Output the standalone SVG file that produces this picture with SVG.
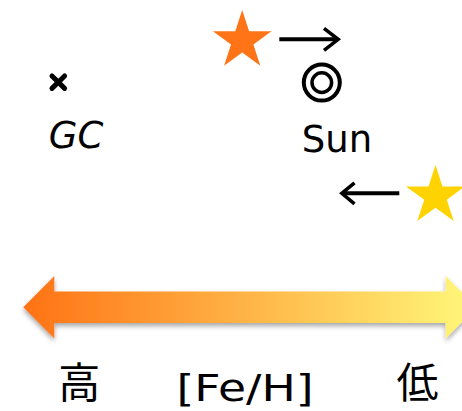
<svg xmlns="http://www.w3.org/2000/svg" width="462" height="411" viewBox="0 0 462 411">
  <style>
    .lbl { font-family: "DejaVu Sans", "Liberation Sans", sans-serif; fill: #000; }
    .cjk { font-family: "Noto Sans CJK JP", "Noto Sans CJK SC", sans-serif; fill: #000; }
    .mark { fill: none; stroke: #000; }
    .move { fill: none; stroke: #000; stroke-width: 4; }
    .head { fill: none; stroke: #000; stroke-width: 3.5; stroke-linejoin: miter; }
  </style>
  <defs>
    <linearGradient id="feGrad" x1="23" y1="0" x2="462" y2="0" gradientUnits="userSpaceOnUse">
      <stop offset="0" stop-color="#FF7214"/>
      <stop offset="1" stop-color="#FFF477"/>
    </linearGradient>
    <filter id="softShadow" x="-10%" y="-40%" width="120%" height="180%">
      <feDropShadow dx="0" dy="3" stdDeviation="2.5" flood-color="#000" flood-opacity="0.35"/>
    </filter>
  </defs>
  <rect width="462" height="411" fill="#fff"/>

  <!-- Galactic centre -->
  <g id="gc">
    <path class="mark" d="M52 76 L64.6 88.4 M64.6 76 L52 88.4" stroke-width="5" stroke-linecap="round"/>
    <text class="lbl" x="76" y="148" font-size="37" font-style="italic" text-anchor="middle">GC</text>
  </g>

  <!-- Sun -->
  <g id="sun">
    <circle class="mark" cx="321.8" cy="82.6" r="18" stroke-width="4"/>
    <circle class="mark" cx="321.8" cy="82.6" r="9.8" stroke-width="3.5"/>
    <text class="lbl" x="337" y="152" font-size="37" text-anchor="middle">Sun</text>
  </g>

  <!-- metal-rich star -->
  <g id="star-orange">
    <polygon fill="#FF7417" points="242.2,10 249.12,31.28 271.49,31.28 253.39,44.44 260.3,65.72 242.2,52.57 224.1,65.72 231.01,44.44 212.91,31.28 235.28,31.28"/>
  </g>

  <!-- metal-poor star -->
  <g id="star-yellow">
    <polygon fill="#FFD300" points="435.5,165 442.46,186.42 464.98,186.42 446.76,199.66 453.72,221.08 435.5,207.84 417.28,221.08 424.24,199.66 406.02,186.42 428.54,186.42"/>
  </g>

  <!-- migration arrows -->
  <g id="connectors">
    <line class="move" x1="279.3" y1="39.3" x2="338" y2="39.3"/>
    <polyline class="head" points="324,28.3 338.2,39.3 324,50.3"/>
    <line class="move" x1="399.3" y1="193.3" x2="342" y2="193.3"/>
    <polyline class="head" points="354.5,182.8 341.8,193.3 354.5,203.8"/>
  </g>

  <!-- metallicity axis -->
  <g id="axis">
    <polygon fill="url(#feGrad)" filter="url(#softShadow)" points="23.3,307.2 54.3,276 54.3,291.5 445.7,291.5 445.7,276 476.7,307.2 445.7,338.4 445.7,322.9 54.3,322.9 54.3,338.4"/>
  </g>

  <g id="labels">
    <text class="cjk" x="79.2" y="398" font-size="42" text-anchor="middle">高</text>
    <text class="lbl" x="245" y="401" font-size="38" text-anchor="middle" textLength="137" lengthAdjust="spacingAndGlyphs">[Fe/H]</text>
    <text class="cjk" x="417.5" y="398" font-size="42" text-anchor="middle">低</text>
  </g>
</svg>
